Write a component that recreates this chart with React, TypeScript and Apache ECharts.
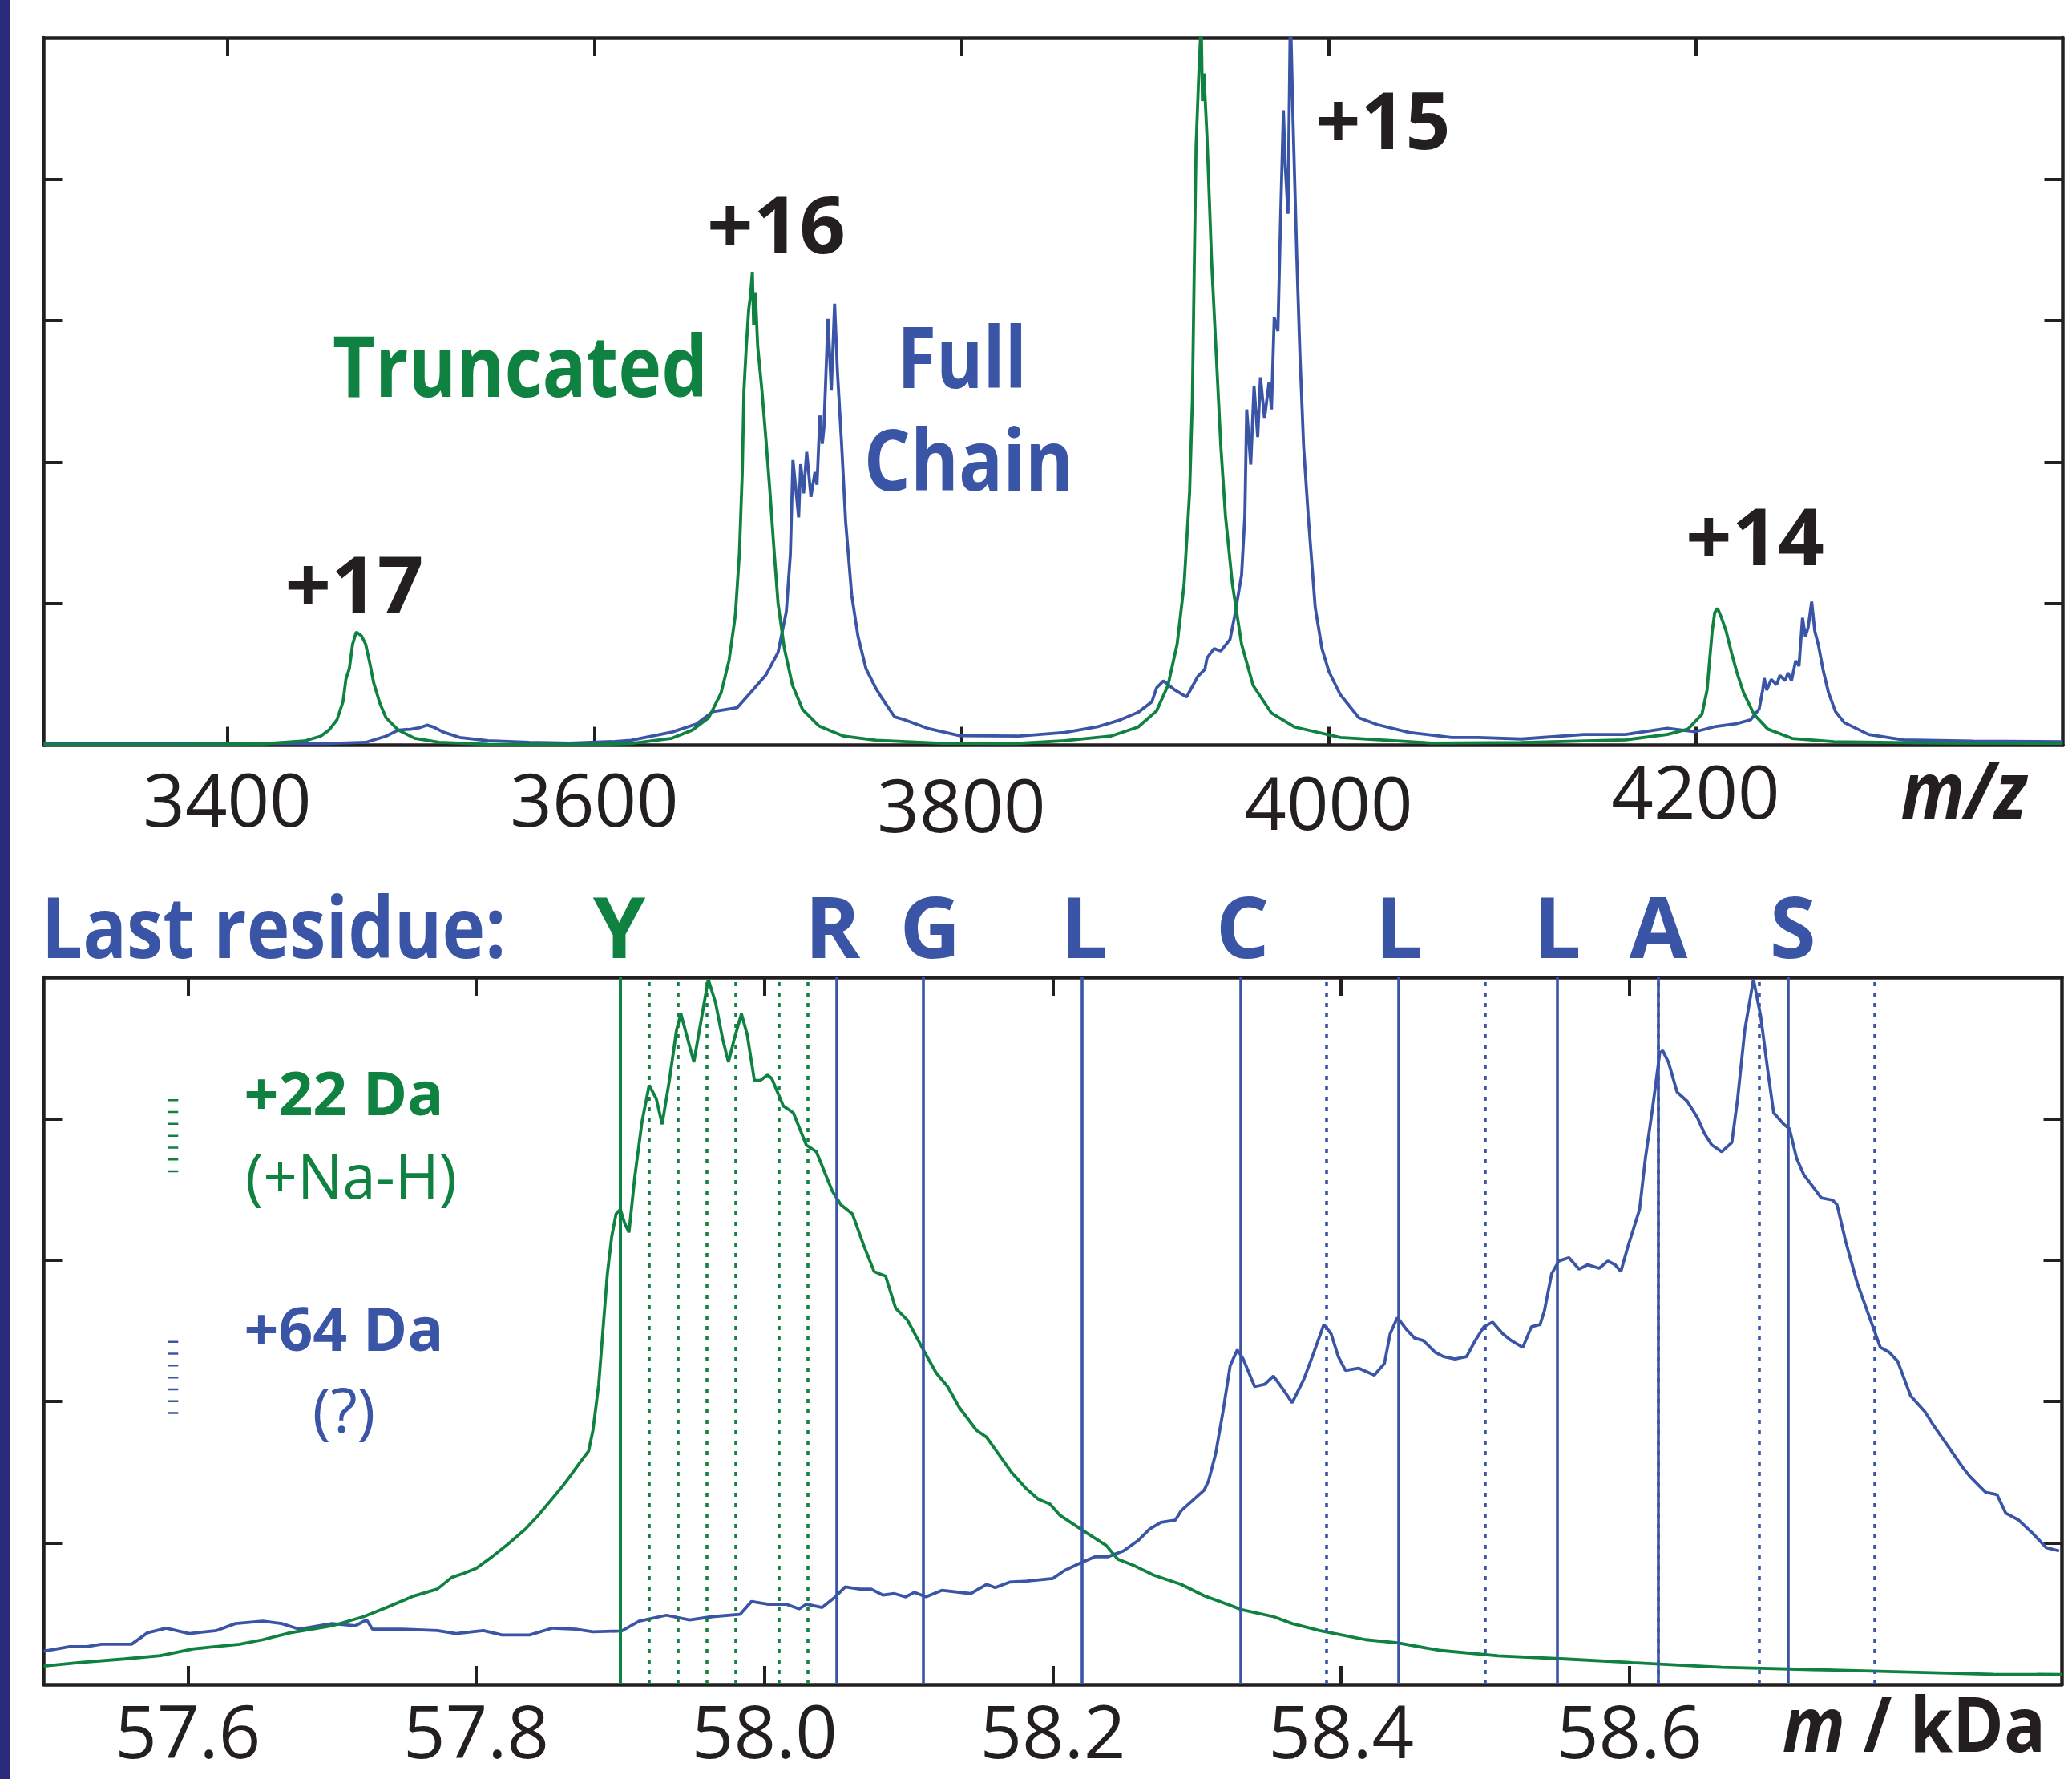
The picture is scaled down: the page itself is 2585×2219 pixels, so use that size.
import React, { useEffect, useRef } from 'react';
import * as echarts from 'echarts';

const GREEN = '#0f8140';
const BLUE = '#3a55a5';
const INK = '#231f20';
const NAVY = '#2b2a7c';
const FONT = '"Open Sans", "Noto Sans", sans-serif';

// ---------- data ----------
const mzTicks = [3400, 3600, 3800, 4000, 4200];
const massTicks = [57.6, 57.8, 58.0, 58.2, 58.4, 58.6];
const intensityTicks = [1, 2, 3, 4];

// top panel: m/z spectra [m/z, intensity]
const mzTruncated = [
  [3300, 0.005], [3380, 0.006], [3420, 0.01], [3442, 0.03], [3450.9, 0.064], [3455.4, 0.107],
  [3459.8, 0.18], [3463.1, 0.31], [3464.7, 0.47], [3466.5, 0.54], [3468.3, 0.714], [3470.3, 0.8],
  [3473.2, 0.772], [3475.4, 0.714], [3477.6, 0.584], [3479.8, 0.44], [3483.2, 0.295], [3486.5, 0.194],
  [3493.2, 0.107], [3502.1, 0.049], [3515.4, 0.02], [3542.1, 0.006], [3600, 0.005], [3620, 0.012],
  [3642.3, 0.049], [3653.4, 0.107], [3662.3, 0.194], [3669, 0.367], [3673.4, 0.6], [3676.8, 0.916],
  [3679, 1.35], [3680.6, 1.928], [3681.5, 2.506], [3682.8, 2.82], [3684.1, 3.08], [3685, 3.17],
  [3686.1, 3.345], [3686.8, 2.969], [3687.7, 3.2], [3689, 2.82], [3691.3, 2.506], [3693.5, 2.16],
  [3695.7, 1.784], [3697.9, 1.379], [3700.1, 1.0], [3703.5, 0.685], [3707.9, 0.425], [3713.5, 0.251],
  [3722.4, 0.136], [3735.8, 0.064], [3753.6, 0.035], [3789.2, 0.014], [3830, 0.012], [3856.2, 0.032],
  [3881.3, 0.064], [3896.3, 0.129], [3906.3, 0.243], [3912.5, 0.422], [3917.5, 0.714], [3921.3, 1.137],
  [3924.3, 1.788], [3925.8, 2.438], [3926.8, 3.349], [3927.8, 4.227], [3929.3, 4.747], [3930.6, 5.1],
  [3931.3, 4.552], [3932.1, 4.747], [3933.8, 4.292], [3936.3, 3.414], [3938.8, 2.763], [3941.3, 2.113],
  [3943.8, 1.625], [3947.6, 1.137], [3952.6, 0.714], [3958.9, 0.422], [3968.9, 0.227], [3981.4, 0.129],
  [4006.4, 0.055], [4056.5, 0.015], [4105, 0.019], [4161.8, 0.038], [4184.5, 0.076], [4195.8, 0.114],
  [4203.4, 0.218], [4206.2, 0.389], [4207.7, 0.616], [4209, 0.806], [4210.4, 0.939], [4211.9, 0.967],
  [4213.8, 0.91], [4216.6, 0.806], [4219.5, 0.654], [4222.3, 0.521], [4226.1, 0.37], [4231.8, 0.218],
  [4239.3, 0.114], [4252.6, 0.048], [4275.3, 0.025], [4332, 0.015], [4400, 0.013],
];

const mzFullChain = [
  [3300, 0.01], [3400, 0.012], [3455, 0.012], [3475.4, 0.02], [3486.5, 0.064], [3493.2, 0.107],
  [3499.9, 0.113], [3504.3, 0.122], [3508.8, 0.142], [3512.1, 0.13], [3517.7, 0.093], [3526.6, 0.055],
  [3542.1, 0.032], [3564.4, 0.02], [3586.6, 0.015], [3611.1, 0.026], [3620, 0.035], [3642.3, 0.093],
  [3655.6, 0.15], [3664.5, 0.237], [3677.9, 0.266], [3686.8, 0.396], [3693.5, 0.497], [3700.1, 0.656],
  [3704.6, 0.945], [3706.8, 1.35], [3708.2, 2.015], [3711.3, 1.61], [3712.4, 1.986], [3714, 1.78],
  [3715.7, 2.073], [3718, 1.755], [3720.2, 1.93], [3721.3, 1.84], [3722.9, 2.33], [3724.2, 2.13],
  [3725.1, 2.246], [3727.3, 3.012], [3729.1, 2.506], [3730.9, 3.12], [3732.4, 2.651], [3734.7, 2.13],
  [3736.9, 1.58], [3740.2, 1.061], [3743.6, 0.772], [3748, 0.54], [3753.6, 0.396], [3756.4, 0.338],
  [3763.6, 0.2], [3769, 0.18], [3781.4, 0.12], [3799, 0.067], [3831.2, 0.064], [3856.2, 0.09],
  [3873.7, 0.129], [3886.3, 0.178], [3896.3, 0.233], [3903.8, 0.308], [3906.3, 0.405], [3910, 0.454],
  [3916.3, 0.39], [3922.6, 0.34], [3928.8, 0.487], [3932.6, 0.536], [3933.8, 0.617], [3937.6, 0.682],
  [3941.3, 0.666], [3946.3, 0.747], [3948.8, 0.91], [3952.6, 1.202], [3954.4, 1.625], [3955.4, 2.373],
  [3957.6, 1.983], [3959.4, 2.536], [3961.4, 2.178], [3962.9, 2.6], [3965.1, 2.308], [3967.6, 2.568],
  [3968.9, 2.373], [3970.4, 3.023], [3972.4, 2.926], [3973.9, 3.739], [3975.4, 4.487], [3976.4, 4.097],
  [3977.9, 3.755], [3979.2, 5.2], [3980.7, 4.39], [3982.7, 3.446], [3984.4, 2.763], [3986.4, 2.113],
  [3988.9, 1.625], [3992.7, 0.975], [3996.4, 0.682], [4000.2, 0.52], [4006.4, 0.357], [4016.5, 0.194],
  [4026.5, 0.146], [4044, 0.09], [4067, 0.055], [4081.6, 0.055], [4105, 0.044], [4139, 0.076],
  [4161.8, 0.076], [4184.5, 0.12], [4199.6, 0.095], [4211, 0.133], [4222.3, 0.152], [4229.9, 0.18],
  [4234.6, 0.256], [4236.5, 0.389], [4237.4, 0.474], [4238.7, 0.389], [4241.2, 0.464], [4244.1, 0.427],
  [4245.9, 0.493], [4248.8, 0.455], [4250.3, 0.512], [4252.2, 0.455], [4254.5, 0.597], [4256.3, 0.559],
  [4258.2, 0.9], [4259.8, 0.768], [4261.3, 0.834], [4263.2, 1.014], [4264.9, 0.806], [4266.8, 0.711],
  [4269.6, 0.521], [4272.4, 0.37], [4276.2, 0.237], [4280.9, 0.161], [4294.2, 0.076], [4313.1, 0.038],
  [4350.9, 0.029], [4400, 0.025],
];

// bottom panel: deconvolved mass spectra [kDa, intensity]
const massTruncated = [
  [57.5, 0.13], [57.524, 0.154], [57.556, 0.18], [57.581, 0.203], [57.604, 0.251], [57.636, 0.284],
  [57.652, 0.316], [57.671, 0.365], [57.7, 0.414], [57.722, 0.479], [57.738, 0.544], [57.757, 0.626],
  [57.773, 0.674], [57.783, 0.756], [57.792, 0.788], [57.8, 0.821], [57.811, 0.902], [57.821, 0.983],
  [57.834, 1.097], [57.843, 1.195], [57.851, 1.292], [57.859, 1.39], [57.865, 1.47], [57.872, 1.569],
  [57.878, 1.651], [57.881, 1.797], [57.885, 2.122], [57.888, 2.513], [57.891, 2.903], [57.894, 3.164],
  [57.897, 3.326], [57.9, 3.359], [57.903, 3.261], [57.906, 3.196], [57.91, 3.587], [57.915, 3.977],
  [57.92, 4.237], [57.925, 4.14], [57.929, 3.961], [57.934, 4.27], [57.939, 4.628], [57.942, 4.742],
  [57.945, 4.628], [57.951, 4.4], [57.956, 4.693], [57.961, 4.986], [57.966, 4.823], [57.971, 4.563],
  [57.975, 4.4], [57.979, 4.563], [57.984, 4.742], [57.988, 4.595], [57.993, 4.27], [57.997, 4.27],
  [58.002, 4.309], [58.005, 4.286], [58.013, 4.091], [58.02, 4.042], [58.029, 3.814], [58.036, 3.766],
  [58.047, 3.489], [58.053, 3.391], [58.061, 3.326], [58.069, 3.099], [58.076, 2.92], [58.08, 2.903],
  [58.084, 2.887], [58.091, 2.659], [58.099, 2.578], [58.111, 2.35], [58.119, 2.204], [58.127, 2.106],
  [58.135, 1.96], [58.147, 1.797], [58.154, 1.748], [58.162, 1.634], [58.171, 1.504], [58.181, 1.39],
  [58.19, 1.309], [58.198, 1.276], [58.205, 1.195], [58.222, 1.081], [58.237, 0.983], [58.245, 0.886],
  [58.257, 0.837], [58.27, 0.772], [58.289, 0.707], [58.305, 0.626], [58.321, 0.567], [58.331, 0.528],
  [58.353, 0.479], [58.366, 0.43], [58.385, 0.381], [58.417, 0.316], [58.439, 0.294], [58.468, 0.241],
  [58.509, 0.202], [58.555, 0.18], [58.602, 0.154], [58.664, 0.121], [58.727, 0.105], [58.789, 0.089],
  [58.852, 0.072], [58.9, 0.07],
];

const massFullChain = [
  [57.5, 0.235], [57.518, 0.267], [57.53, 0.267], [57.54, 0.284], [57.561, 0.284], [57.572, 0.365],
  [57.585, 0.398], [57.601, 0.359], [57.62, 0.381], [57.633, 0.43], [57.652, 0.447], [57.665, 0.43],
  [57.677, 0.391], [57.7, 0.43], [57.716, 0.414], [57.724, 0.456], [57.728, 0.391], [57.747, 0.391],
  [57.773, 0.381], [57.786, 0.359], [57.805, 0.381], [57.818, 0.349], [57.837, 0.349], [57.853, 0.398],
  [57.869, 0.391], [57.881, 0.372], [57.901, 0.378], [57.913, 0.447], [57.932, 0.489], [57.948, 0.456],
  [57.964, 0.479], [57.983, 0.495], [57.991, 0.586], [58.002, 0.567], [58.015, 0.567], [58.024, 0.534],
  [58.029, 0.567], [58.04, 0.544], [58.048, 0.609], [58.056, 0.69], [58.066, 0.674], [58.074, 0.674],
  [58.082, 0.632], [58.09, 0.642], [58.098, 0.619], [58.104, 0.651], [58.112, 0.619], [58.123, 0.665],
  [58.143, 0.642], [58.154, 0.707], [58.16, 0.684], [58.17, 0.723], [58.182, 0.73], [58.2, 0.749],
  [58.208, 0.805], [58.218, 0.853], [58.229, 0.902], [58.238, 0.902], [58.249, 0.944], [58.259, 1.016],
  [58.267, 1.097], [58.275, 1.146], [58.285, 1.162], [58.289, 1.228], [58.296, 1.292], [58.305, 1.374],
  [58.308, 1.439], [58.313, 1.634], [58.318, 1.927], [58.323, 2.253], [58.328, 2.366], [58.332, 2.301],
  [58.34, 2.106], [58.347, 2.122], [58.353, 2.181], [58.359, 2.097], [58.366, 1.992], [58.374, 2.155],
  [58.38, 2.318], [58.388, 2.545], [58.393, 2.48], [58.398, 2.318], [58.403, 2.22], [58.412, 2.236],
  [58.423, 2.187], [58.43, 2.269], [58.434, 2.48], [58.439, 2.594], [58.445, 2.513], [58.451, 2.448],
  [58.457, 2.431], [58.465, 2.35], [58.471, 2.318], [58.479, 2.301], [58.487, 2.318], [58.493, 2.431],
  [58.499, 2.529], [58.505, 2.562], [58.512, 2.48], [58.518, 2.431], [58.526, 2.383], [58.532, 2.529],
  [58.538, 2.545], [58.541, 2.643], [58.546, 2.903], [58.551, 2.994], [58.558, 3.017], [58.565, 2.936],
  [58.571, 2.968], [58.579, 2.942], [58.585, 2.994], [58.59, 2.968], [58.594, 2.92], [58.599, 3.099],
  [58.604, 3.261], [58.607, 3.359], [58.611, 3.717], [58.616, 4.075], [58.621, 4.465], [58.623, 4.482],
  [58.627, 4.4], [58.633, 4.189], [58.64, 4.124], [58.647, 4.01], [58.652, 3.896], [58.657, 3.815],
  [58.664, 3.766], [58.671, 3.831], [58.675, 4.14], [58.68, 4.628], [58.686, 4.986], [58.691, 4.726],
  [58.696, 4.335], [58.7, 4.042], [58.707, 3.961], [58.711, 3.928], [58.716, 3.717], [58.721, 3.603],
  [58.727, 3.522], [58.733, 3.44], [58.741, 3.424], [58.744, 3.391], [58.75, 3.131], [58.758, 2.838],
  [58.766, 2.61], [58.774, 2.383], [58.78, 2.35], [58.786, 2.285], [58.795, 2.041], [58.805, 1.927],
  [58.811, 1.83], [58.82, 1.699], [58.831, 1.537], [58.836, 1.472], [58.847, 1.358], [58.855, 1.341],
  [58.861, 1.211], [58.87, 1.162], [58.88, 1.065], [58.889, 0.967], [58.898, 0.944],
];

const residueLetters = ['Y', 'R', 'G', 'L', 'C', 'L', 'L', 'A', 'S'];
const residueMasses = [57.8966, 58.053, 58.1104, 58.2231, 58.3252, 58.4396, 58.5524, 58.6234, 58.7102];
const sodiumAdductMasses = [57.9186, 57.9409, 57.9625, 57.9849, 58.0065, 58.0289];
const plus64Masses = [58.3898, 58.5032, 58.6167, 58.6869, 58.7745];

// ---------- styling helpers ----------
const mzLabelDrop = [10, 10, 17, 14, 0];
const residueLabelShift = [-1.5, -5, 9, 3, 3, 0, 0, 0, 6];
const DOT = [5, 8];
const TRACE_W = 3.8;
const MARK_W = 3.6;

const frame = { show: true, onZero: false, lineStyle: { color: INK, width: 4.5 } };
const tickStyle = (values: number[]) => ({
  show: true, inside: true, length: 23, customValues: values,
  lineStyle: { color: INK, width: 4 },
});

function txt(text: string, x: number, y: number, fontSize: number, fill: string,
  extra: { bold?: boolean; italic?: boolean; scaleX?: number } = {}) {
  return {
    type: 'text', x, y, scaleX: extra.scaleX ?? 1, z: 100,
    style: {
      text, fill, fontSize, fontFamily: FONT,
      fontWeight: extra.bold === false ? 'normal' : 'bold',
      fontStyle: extra.italic ? 'italic' : 'normal',
      align: 'center', verticalAlign: 'middle',
      textAlign: 'center', textVerticalAlign: 'middle',
    },
  };
}

function buildOption() {
  const residueLabel = (color: string, i: number) => ({
    show: true, position: 'end', distance: 12, color, offset: [residueLabelShift[i], 0],
    fontSize: 105, lineHeight: 105, fontWeight: 'bold', fontFamily: FONT,
    formatter: residueLetters[i],
  });
  return {
    animation: false,
    backgroundColor: '#ffffff',
    grid: [
      { left: 54.5, top: 47, width: 2519, height: 882.5, containLabel: false, outerBoundsMode: 'none' },
      { left: 54.5, top: 1219, width: 2518, height: 882, containLabel: false, outerBoundsMode: 'none' },
    ],
    xAxis: [
      {
        type: 'value', gridIndex: 0, position: 'bottom', min: 3300, max: 4400,
        axisLine: frame, axisTick: tickStyle(mzTicks), splitLine: { show: false },
        axisLabel: {
          show: true, customValues: mzTicks, margin: 10,
          formatter: (v: number) => `{s${mzTicks.indexOf(v)}|${v}}`,
          rich: Object.fromEntries(mzTicks.map((_, i) => [`s${i}`, {
            fontSize: 92, fontFamily: FONT, color: INK, padding: [mzLabelDrop[i], 0, 0, 0],
          }])),
        },
      },
      {
        type: 'value', gridIndex: 0, position: 'top', min: 3300, max: 4400,
        axisLine: frame, axisTick: tickStyle(mzTicks), splitLine: { show: false },
        axisLabel: { show: false },
      },
      {
        type: 'value', gridIndex: 1, position: 'bottom', min: 57.5, max: 58.9,
        axisLine: frame, axisTick: tickStyle(massTicks), splitLine: { show: false },
        axisLabel: {
          show: true, customValues: massTicks, margin: 10, fontSize: 92, fontFamily: FONT, color: INK,
          formatter: (v: number) => v.toFixed(1),
        },
      },
      {
        type: 'value', gridIndex: 1, position: 'top', min: 57.5, max: 58.9,
        axisLine: frame, axisTick: tickStyle(massTicks), splitLine: { show: false },
        axisLabel: { show: false },
      },
    ],
    yAxis: [0, 0, 1, 1].map((g, i) => ({
      type: 'value', gridIndex: g, position: i % 2 === 0 ? 'left' : 'right',
      min: 0, max: 5, interval: 1,
      axisLine: frame, axisTick: tickStyle(intensityTicks),
      axisLabel: { show: false }, splitLine: { show: false },
    })),
    series: [
      {
        name: 'Full Chain (m/z)', type: 'line', xAxisIndex: 0, yAxisIndex: 0, data: mzFullChain,
        showSymbol: false, symbol: 'none', lineStyle: { color: BLUE, width: TRACE_W }, z: 3,
      },
      {
        name: 'Truncated (m/z)', type: 'line', xAxisIndex: 0, yAxisIndex: 0, data: mzTruncated,
        showSymbol: false, symbol: 'none', lineStyle: { color: GREEN, width: TRACE_W }, z: 4,
      },
      {
        name: 'Full Chain (mass)', type: 'line', xAxisIndex: 2, yAxisIndex: 2, data: massFullChain,
        showSymbol: false, symbol: 'none', lineStyle: { color: BLUE, width: TRACE_W }, z: 3,
        markLine: {
          silent: true, symbol: ['none', 'none'], animation: false,
          data: [
            ...residueMasses.slice(1).map((m, i) => ({
              xAxis: m, lineStyle: { color: BLUE, width: MARK_W, type: 'solid' },
              label: residueLabel(BLUE, i + 1),
            })),
            ...plus64Masses.map((m) => ({
              xAxis: m, lineStyle: { color: BLUE, width: MARK_W, type: DOT }, label: { show: false },
            })),
          ],
        },
      },
      {
        name: 'Truncated (mass)', type: 'line', xAxisIndex: 2, yAxisIndex: 2, data: massTruncated,
        showSymbol: false, symbol: 'none', lineStyle: { color: GREEN, width: TRACE_W }, z: 4,
        markLine: {
          silent: true, symbol: ['none', 'none'], animation: false,
          data: [
            {
              xAxis: residueMasses[0], lineStyle: { color: GREEN, width: 4, type: 'solid' },
              label: residueLabel(GREEN, 0),
            },
            ...sodiumAdductMasses.map((m) => ({
              xAxis: m, lineStyle: { color: GREEN, width: MARK_W, type: DOT }, label: { show: false },
            })),
          ],
        },
      },
    ],
    graphic: [
      { type: 'rect', x: 0, y: 0, shape: { x: 0, y: 0, width: 12, height: 2219 }, style: { fill: NAVY }, z: 100 },
      // top panel annotations
      txt('+17', 442, 726.6, 98, INK, { scaleX: 1.03 }),
      txt('+16', 968.5, 277.7, 98, INK, { scaleX: 1.03 }),
      txt('+15', 1725.5, 148, 98, INK, { scaleX: 1.0 }),
      txt('+14', 2189.5, 667, 98, INK, { scaleX: 1.03 }),
      txt('Truncated', 649, 454, 105, GREEN, { scaleX: 0.87 }),
      txt('Full', 1200, 443, 106, BLUE, { scaleX: 0.84 }),
      txt('Chain', 1208.5, 571, 105, BLUE, { scaleX: 0.87 }),
      txt('m/z', 2450, 983, 98, INK, { italic: true, scaleX: 0.9 }),
      // bottom panel annotations
      txt('Last residue:', 341.5, 1154.3, 105, BLUE, { scaleX: 0.866 }),
      txt('+22 Da', 429, 1361.6, 75, GREEN),
      txt('(+Na-H)', 438, 1464.6, 77, GREEN, { bold: false, scaleX: 0.97 }),
      txt('+64 Da', 429, 1656, 75, BLUE),
      txt('(?)', 429, 1757, 77, BLUE, { bold: false }),
      {
        type: 'line', z: 100,
        shape: { x1: 216, y1: 1371, x2: 216, y2: 1463 },
        style: { stroke: GREEN, lineWidth: 12.6, lineDash: [2.5, 12.3] },
      },
      {
        type: 'line', z: 100,
        shape: { x1: 216, y1: 1672.5, x2: 216, y2: 1764 },
        style: { stroke: BLUE, lineWidth: 12.6, lineDash: [2.5, 12.3] },
      },
      {
        type: 'text', x: 2388, y: 2148, scaleX: 0.9, z: 100,
        style: {
          text: '{i|m}{b| / kDa}', fill: INK,
          align: 'center', verticalAlign: 'middle', textAlign: 'center', textVerticalAlign: 'middle',
          rich: {
            i: { fontSize: 96, lineHeight: 96, fontFamily: FONT, fontWeight: 'bold', fontStyle: 'italic', fill: INK, color: INK },
            b: { fontSize: 96, lineHeight: 96, fontFamily: FONT, fontWeight: 'bold', fill: INK, color: INK },
          },
        },
      },
    ],
  };
}

export default function App() {
  const ref = useRef<HTMLDivElement>(null);
  useEffect(() => {
    document.body.style.margin = '0';
    const chart = echarts.init(ref.current!, null, { renderer: 'svg' });
    chart.setOption(buildOption() as any);
    return () => chart.dispose();
  }, []);
  return <div ref={ref} style={{ width: 2585, height: 2219 }} />;
}
